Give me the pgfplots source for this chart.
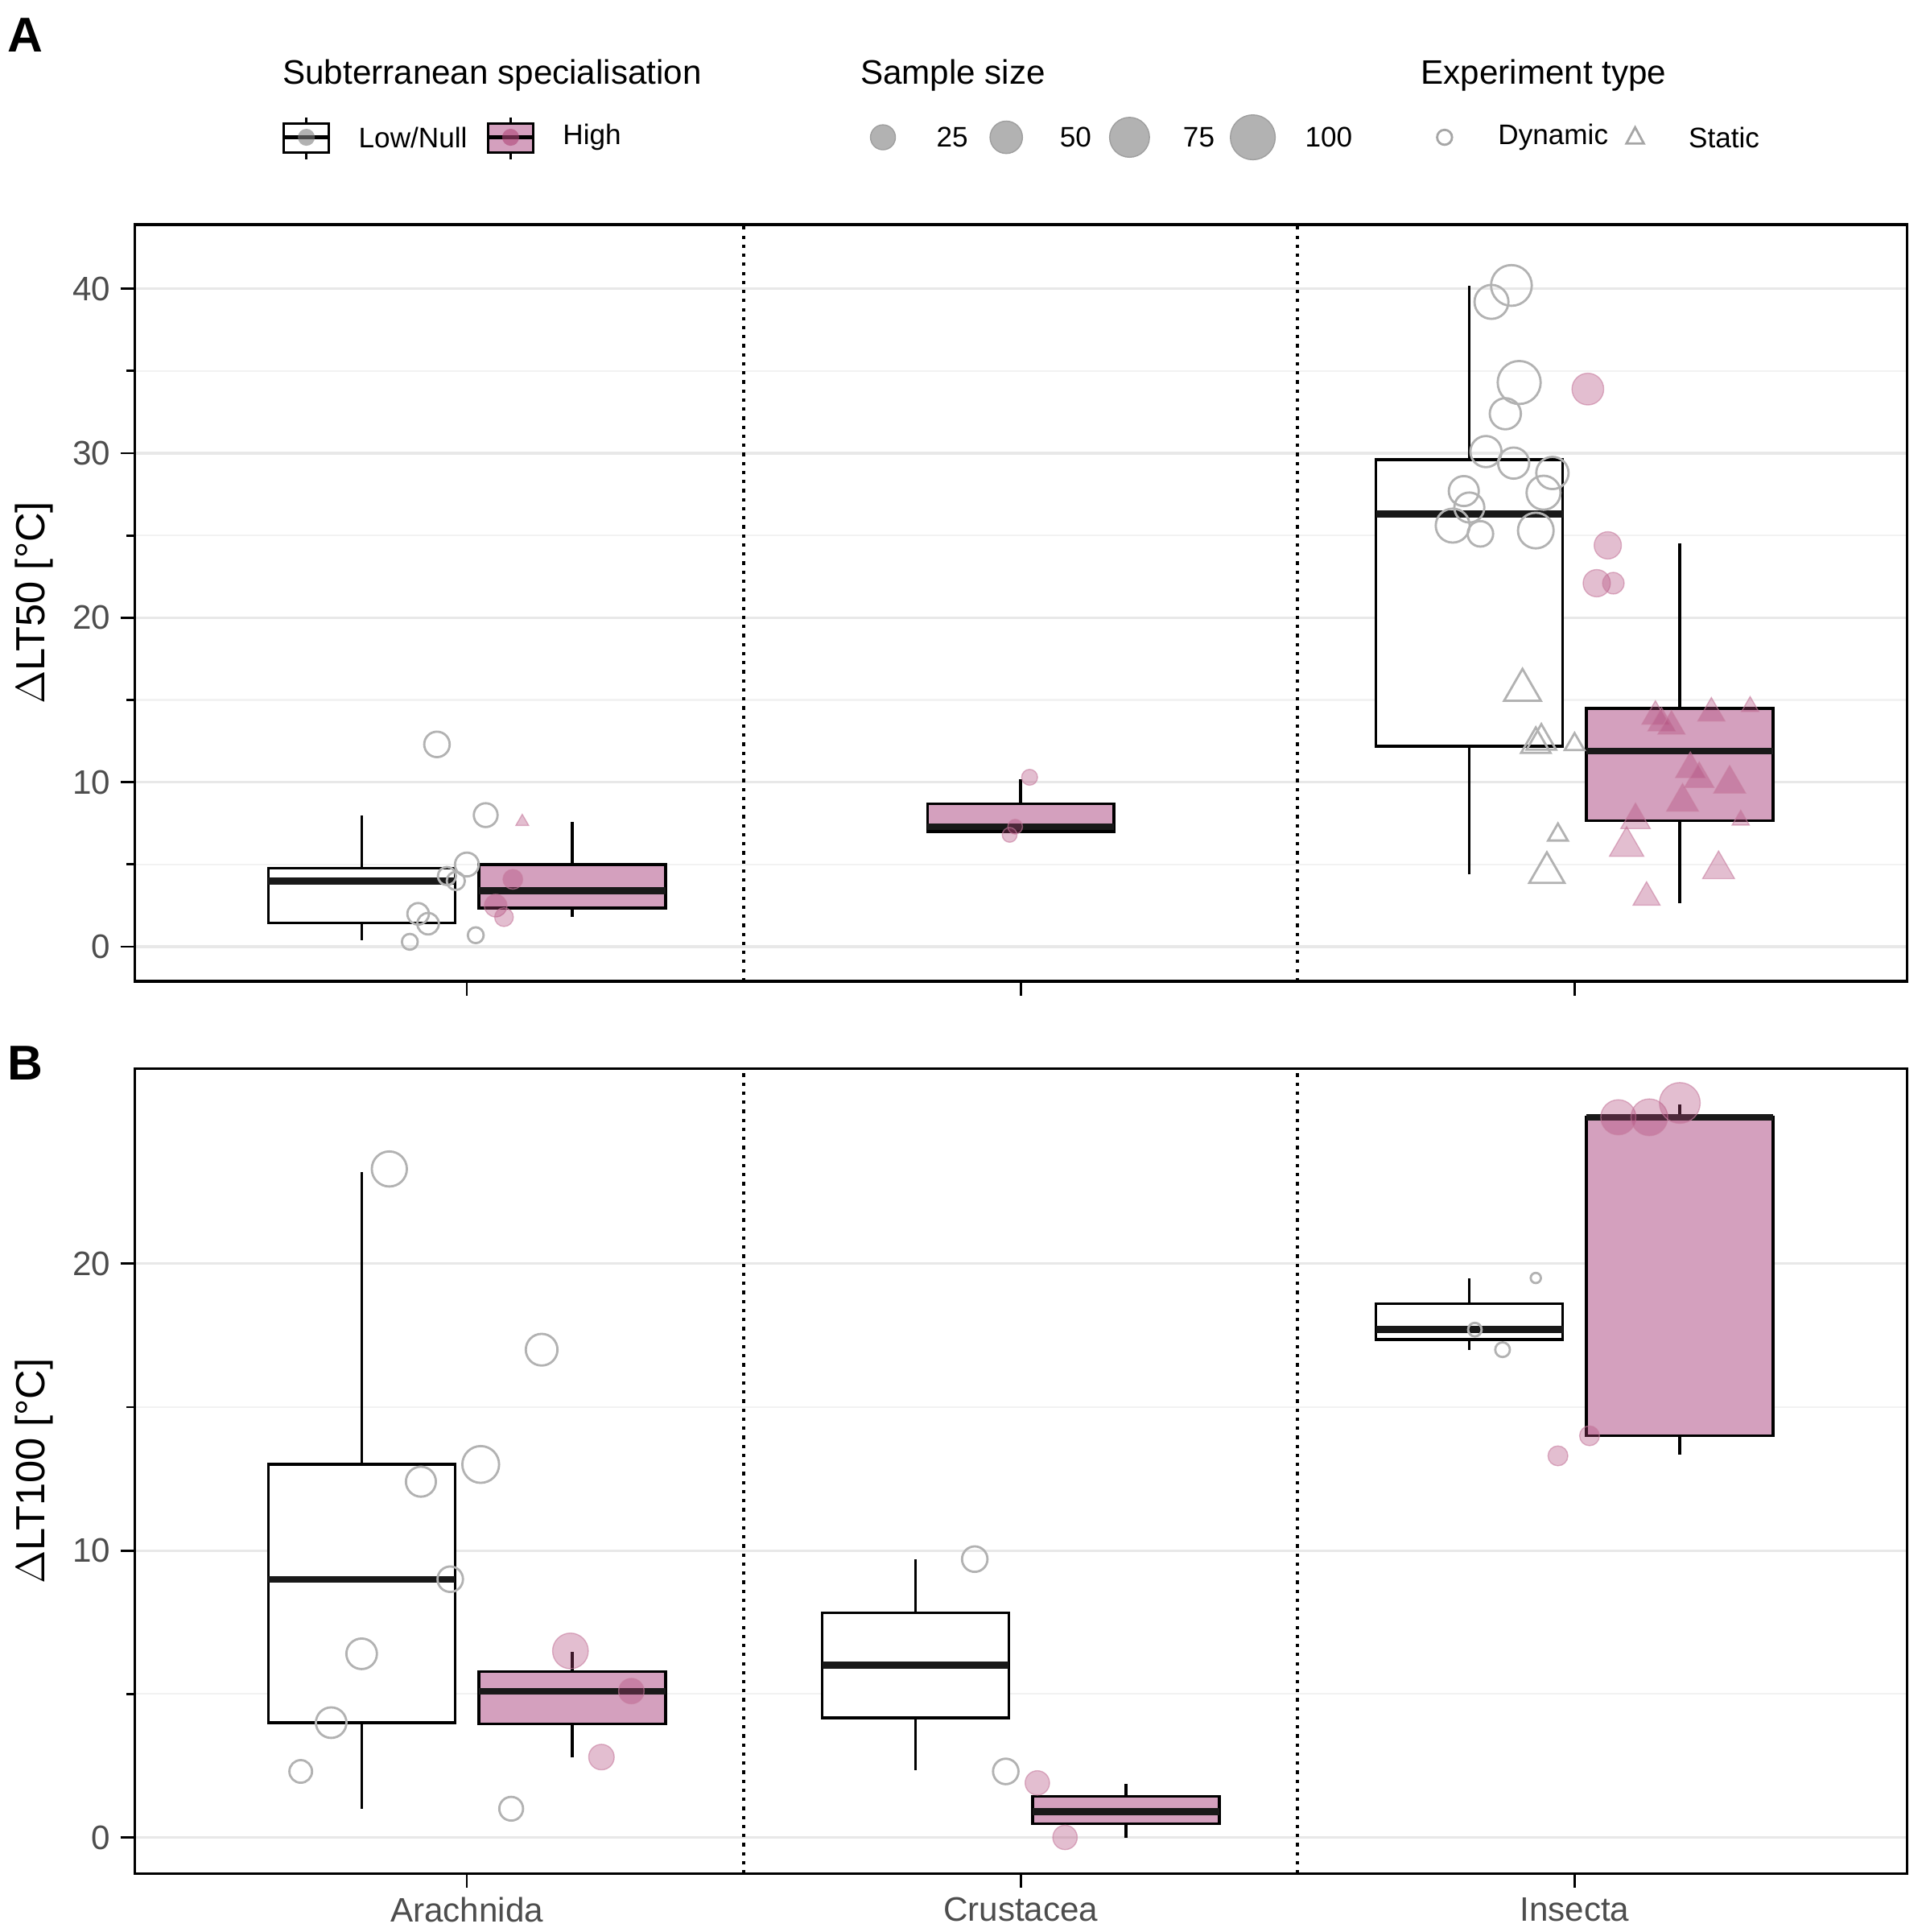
\documentclass[border=0pt]{standalone}
\usepackage{pgfplots}
\pgfplotsset{compat=1.18}
\usepackage{fontspec}
\setmainfont{Liberation Sans}
\definecolor{boxpink}{RGB}{212,160,190}
\definecolor{ptpink}{RGB}{176,70,120}
\definecolor{tickc}{RGB}{77,77,77}
\newcommand{\bx}[7]{%
 \pgfmathsetmacro\xa{#1-0.1685}\pgfmathsetmacro\xb{#1+0.1685}%
 \addplot[draw=black, line width=1pt] coordinates {(#1,#2) (#1,#3)};
 \addplot[draw=black, line width=1pt] coordinates {(#1,#5) (#1,#6)};
 \addplot[draw=black, fill=#7, line width=1pt] coordinates {(\xa,#3) (\xb,#3) (\xb,#5) (\xa,#5) (\xa,#3)} -- cycle;
 \addplot[draw=black!90, line width=2.4pt] coordinates {(\xa,#4) (\xb,#4)};
}
\begin{document}
\begin{tikzpicture}
\useasboundingbox (-1.672,-11.81) rectangle (22.25,12.19);
\pgfplotsset{
 panel/.style={width=22.02cm, scale only axis, xmin=0.4, xmax=3.6,
  axis line style={black, line width=0.9pt},
  xtick={1,2,3}, tick align=outside, xtick pos=bottom, ytick pos=left,
  major tick length=5pt, tick style={black, line width=0.8pt},
  ymajorgrids, yminorgrids, minor y tick num=1,
  major grid style={gray!18, line width=0.9pt}, minor grid style={gray!10, line width=0.6pt},
  tick label style={font=\large, color=tickc},
  label style={font=\Large},
  /pgf/number format/assume math mode=true},
 sz/.style={scatter/@pre marker code/.append style={/tikz/mark size=\psz}},
 sc/.style={scatter, only marks, point meta=\thisrow{s},
  visualization depends on={\thisrow{s}\as\psz}},
 gcirc/.style={sc, mark=o, scatter/use mapped color={draw=gray!60, fill=none}, sz, line width=0.8pt},
 gtri/.style={sc, mark=triangle, scatter/use mapped color={draw=gray!60, fill=none}, sz, line width=0.8pt},
 pcirc/.style={sc, mark=*, scatter/use mapped color={draw=ptpink!70, fill=ptpink, fill opacity=0.35, draw opacity=0.6}, sz},
 ptri/.style={sc, mark=triangle*, scatter/use mapped color={draw=ptpink!70, fill=ptpink, fill opacity=0.35, draw opacity=0.6}, sz},
}
% Panel A
\begin{axis}[panel, anchor=south west, at={(0,0)}, height=9.40cm,
  ymin=-2.1, ymax=43.9, ytick={0,10,20,30,40}, xticklabels={},
  ylabel={$\Delta$LT50 [°C]}]
\draw[dotted, line width=1.2pt] (axis cs:1.5,-2.1) -- (axis cs:1.5,43.9);
\draw[dotted, line width=1.2pt] (axis cs:2.5,-2.1) -- (axis cs:2.5,43.9);
\bx{0.81}{0.4}{1.44}{4.0}{4.78}{7.97}{white}
\bx{1.19}{1.8}{2.35}{3.4}{5.0}{7.6}{boxpink}
\bx{2.0}{7.0}{7.0}{7.3}{8.7}{10.2}{boxpink}
\bx{2.81}{4.4}{12.2}{26.3}{29.6}{40.2}{white}
\bx{3.19}{2.66}{7.67}{11.9}{14.5}{24.5}{boxpink}
\addplot[gcirc] table {
x y s
0.946 12.3 4.5
1.034 8.0 4.2
1.0 5.0 4.2
0.964 4.3 3.2
0.98 4.0 3.2
0.912 2.0 3.8
0.93 1.4 3.8
0.897 0.3 2.8
1.016 0.7 2.8
2.886 40.2 7.2
2.85 39.2 6
2.9 34.3 7.6
2.875 32.4 5.5
2.84 30.1 5.5
2.89 29.4 5.5
2.96 28.8 5.7
2.80 27.7 5.3
2.944 27.6 6
2.81 26.7 5.3
2.78 25.6 6
2.83 25.1 4.5
2.93 25.3 6.3
};
\addplot[gtri] table {
x y s
2.906 15.6 7.5
2.93 12.3 6
2.94 12.5 6
3.0 12.3 4
2.97 6.8 4
2.95 4.5 7.2
};
\addplot[pcirc] table {
x y s
1.083 4.1 3.5
1.052 2.5 4
1.067 1.8 3.3
2.016 10.3 2.8
1.99 7.3 2.6
1.98 6.8 2.6
3.024 33.9 5.6
3.06 24.4 4.8
3.04 22.1 4.8
3.07 22.1 3.8
};
\addplot[ptri] table {
x y s
1.1 7.6 2.6
3.146 14.0 5.5
3.247 14.2 5.5
3.317 14.6 3.5
3.157 13.6 5.5
3.175 13.4 5.5
3.209 10.8 6
3.225 10.2 6
3.28 9.9 6.5
3.195 8.8 6.5
3.11 7.7 6
3.3 7.7 3.5
3.094 6.1 7
3.26 4.7 6.5
3.13 3.0 5.5
};
\end{axis}
% Panel B
\begin{axis}[panel, anchor=north west, at={(0,-1.084cm)}, height=10.0cm,
  ymin=-1.26, ymax=26.8, ytick={0,10,20}, xticklabels={Arachnida,Crustacea,Insecta},
  ylabel={$\Delta$LT100 [°C]}]
\draw[dotted, line width=1.2pt] (axis cs:1.5,-1.26) -- (axis cs:1.5,26.8);
\draw[dotted, line width=1.2pt] (axis cs:2.5,-1.26) -- (axis cs:2.5,26.8);
\bx{0.81}{1.0}{4.0}{9.0}{13.0}{23.2}{white}
\bx{1.19}{2.78}{3.96}{5.09}{5.78}{6.48}{boxpink}
\bx{1.81}{2.35}{4.17}{6.0}{7.83}{9.7}{white}
\bx{2.19}{0.0}{0.48}{0.9}{1.43}{1.87}{boxpink}
\bx{2.81}{17.0}{17.35}{17.7}{18.6}{19.5}{white}
\bx{3.19}{13.35}{14.0}{25.1}{25.1}{25.56}{boxpink}
\addplot[gcirc] table {
x y s
0.86 23.3 6.2
1.135 17.0 5.6
1.025 13.0 6.5
0.917 12.4 5.3
0.97 9.0 4.5
0.81 6.4 5.4
0.755 4.0 5.4
0.70 2.3 4.0
1.08 1.0 4.2
1.917 9.7 4.5
1.973 2.3 4.5
2.93 19.5 1.8
2.82 17.7 2.4
2.87 17.0 2.6
};
\addplot[pcirc] table {
x y s
1.187 6.5 6.3
1.297 5.1 4.5
1.243 2.8 4.5
2.03 1.9 4.3
2.08 0.0 4.3
3.079 25.1 6.2
3.135 25.1 6.5
3.19 25.6 7.2
3.027 14.0 3.5
2.97 13.3 3.5
};
\end{axis}
% Legend and panel letters (pixel-based scope)
\begin{scope}[x=0.01548cm, y=-0.01548cm, shift={(-1.749cm,12.186cm)}]
\node[anchor=west, font=\bfseries\LARGE] at (3,28) {A};
\node[anchor=west, font=\bfseries\LARGE] at (3,853) {B};
\node[anchor=west, font=\large] at (224,60) {Subterranean specialisation};
\node[anchor=west, font=\large] at (688,60) {Sample size};
\node[anchor=west, font=\large] at (1138,60) {Experiment type};
\draw[line width=0.9pt, fill=white] (233,99) rectangle (269,122);
\draw[line width=0.9pt] (251,94)--(251,99) (251,122)--(251,128);
\draw[line width=1.6pt] (233,110)--(269,110);
\fill[gray, opacity=0.6] (251,110) circle (3pt);
\node[anchor=west] at (285,110) {Low/Null};
\draw[line width=0.9pt, fill=boxpink] (397,99) rectangle (433,122);
\draw[line width=0.9pt] (415,94)--(415,99) (415,122)--(415,128);
\draw[line width=1.6pt] (397,110)--(433,110);
\fill[ptpink, opacity=0.6] (415,110) circle (3pt);
\node[anchor=west] at (449,110) {High};
\filldraw[fill=gray!60, draw=gray!75] (714,110) circle (10);
\node[anchor=west] at (749,110) {25};
\filldraw[fill=gray!60, draw=gray!75] (813,110) circle (13);
\node[anchor=west] at (848,110) {50};
\filldraw[fill=gray!60, draw=gray!75] (912,110) circle (16);
\node[anchor=west] at (947,110) {75};
\filldraw[fill=gray!60, draw=gray!75] (1011,110) circle (18);
\node[anchor=west] at (1045,110) {100};
\draw[gray!70, line width=0.8pt] (1165,110) circle (6);
\node[anchor=west] at (1200,110) {Dynamic};
\draw[gray!70, line width=0.8pt] (1311,115)--(1325,115)--(1318,102)--cycle;
\node[anchor=west] at (1353,110) {Static};
\end{scope}
\end{tikzpicture}
\end{document}
